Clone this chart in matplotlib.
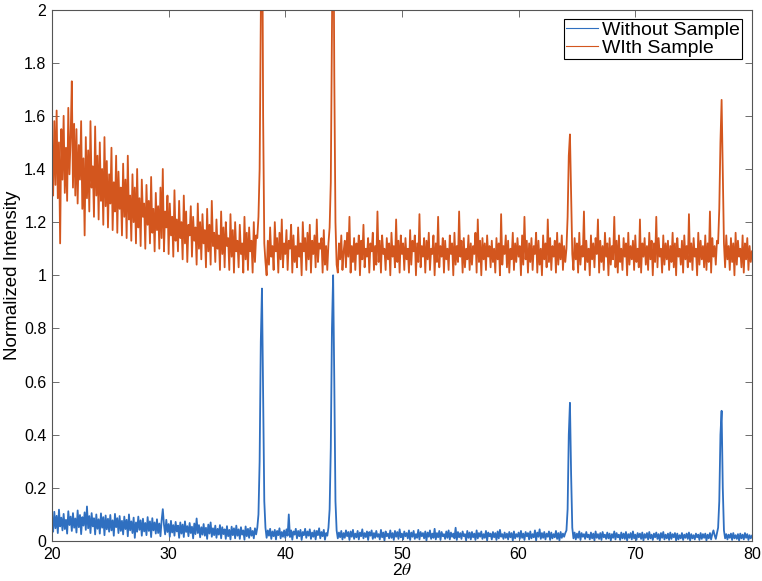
import numpy as np
import matplotlib
matplotlib.use("Agg")
import matplotlib.pyplot as plt

# step scan: 20.0 .. 80.0 deg, 0.1 deg per point
SCAN_START = 20.0
SCAN_STEP = 0.1

# normalized intensity, sample in beam (offset by +1)
with_sample = [
    1.45, 1.30, 1.58, 1.34, 1.62, 1.29, 1.50, 1.12, 1.55, 1.36,  # 20
    1.60, 1.31, 1.48, 1.28, 1.63, 1.38, 1.52, 1.73, 1.33, 1.57,  # 21
    1.30, 1.55, 1.27, 1.49, 1.36, 1.58, 1.25, 1.44, 1.15, 1.52,  # 22
    1.29, 1.47, 1.24, 1.58, 1.33, 1.41, 1.22, 1.56, 1.30, 1.45,  # 23
    1.21, 1.50, 1.28, 1.40, 1.19, 1.52, 1.26, 1.43, 1.18, 1.38,  # 24
    1.27, 1.48, 1.17, 1.35, 1.24, 1.45, 1.16, 1.39, 1.25, 1.33,  # 25
    1.15, 1.42, 1.22, 1.36, 1.14, 1.45, 1.21, 1.30, 1.13, 1.38,  # 26
    1.20, 1.33, 1.12, 1.40, 1.18, 1.29, 1.11, 1.36, 1.22, 1.27,  # 27
    1.10, 1.34, 1.19, 1.28, 1.12, 1.37, 1.16, 1.25, 1.09, 1.31,  # 28
    1.17, 1.26, 1.10, 1.33, 1.14, 1.40, 1.09, 1.24, 1.18, 1.30,  # 29
    1.08, 1.27, 1.15, 1.22, 1.07, 1.32, 1.13, 1.21, 1.09, 1.28,  # 30
    1.14, 1.20, 1.06, 1.30, 1.12, 1.24, 1.05, 1.19, 1.15, 1.26,  # 31
    1.07, 1.22, 1.13, 1.18, 1.04, 1.27, 1.10, 1.20, 1.06, 1.23,  # 32
    1.12, 1.17, 1.03, 1.25, 1.09, 1.19, 1.04, 1.28, 1.11, 1.16,  # 33
    1.05, 1.21, 1.10, 1.15, 1.02, 1.24, 1.08, 1.18, 1.03, 1.20,  # 34
    1.11, 1.14, 1.02, 1.23, 1.07, 1.17, 1.01, 1.20, 1.09, 1.13,  # 35
    1.03, 1.19, 1.08, 1.12, 1.01, 1.22, 1.06, 1.16, 1.02, 1.18,  # 36
    1.09, 1.13, 1.01, 1.20, 1.05, 1.15, 1.14, 1.22, 1.40, 1.95,  # 37
    2.60, 1.60, 1.12, 1.05, 1.00, 1.13, 1.04, 1.18, 1.07, 1.11,  # 38
    1.02, 1.20, 1.09, 1.14, 1.01, 1.16, 1.06, 1.21, 1.03, 1.12,  # 39
    1.08, 1.17, 1.02, 1.13, 1.10, 1.19, 1.01, 1.15, 1.05, 1.11,  # 40
    1.03, 1.18, 1.07, 1.12, 1.00, 1.20, 1.09, 1.14, 1.02, 1.16,  # 41
    1.06, 1.19, 1.01, 1.13, 1.08, 1.15, 1.03, 1.21, 1.05, 1.12,  # 42
    1.10, 1.14, 1.01, 1.17, 1.04, 1.11, 1.02, 1.12, 1.18, 1.35,  # 43
    1.90, 2.60, 1.75, 1.20, 1.04, 1.01, 1.12, 1.06, 1.15, 1.02,  # 44
    1.09, 1.13, 1.03, 1.16, 1.07, 1.22, 1.01, 1.11, 1.05, 1.14,  # 45
    1.02, 1.12, 1.08, 1.15, 1.00, 1.13, 1.06, 1.19, 1.03, 1.10,  # 46
    1.07, 1.14, 1.01, 1.12, 1.09, 1.16, 1.02, 1.11, 1.04, 1.24,  # 47
    1.05, 1.13, 1.01, 1.15, 1.08, 1.10, 1.02, 1.14, 1.06, 1.12,  # 48
    1.00, 1.16, 1.07, 1.11, 1.03, 1.21, 1.05, 1.13, 1.01, 1.15,  # 49
    1.08, 1.12, 1.02, 1.14, 1.06, 1.10, 1.01, 1.17, 1.04, 1.13,  # 50
    1.09, 1.15, 1.00, 1.12, 1.05, 1.23, 1.03, 1.11, 1.07, 1.14,  # 51
    1.01, 1.13, 1.06, 1.16, 1.02, 1.10, 1.08, 1.15, 1.00, 1.12,  # 52
    1.05, 1.22, 1.03, 1.11, 1.07, 1.14, 1.01, 1.13, 1.06, 1.10,  # 53
    1.02, 1.15, 1.08, 1.12, 1.00, 1.16, 1.04, 1.11, 1.05, 1.24,  # 54
    1.07, 1.13, 1.01, 1.14, 1.03, 1.10, 1.06, 1.15, 1.02, 1.12,  # 55
    1.04, 1.11, 1.08, 1.16, 1.01, 1.21, 1.05, 1.13, 1.00, 1.14,  # 56
    1.06, 1.12, 1.02, 1.15, 1.07, 1.11, 1.03, 1.13, 1.05, 1.10,  # 57
    1.01, 1.14, 1.06, 1.12, 1.00, 1.23, 1.04, 1.11, 1.08, 1.15,  # 58
    1.03, 1.13, 1.01, 1.10, 1.06, 1.16, 1.02, 1.12, 1.05, 1.14,  # 59
    1.07, 1.11, 1.00, 1.15, 1.04, 1.22, 1.06, 1.13, 1.01, 1.12,  # 60
    1.05, 1.14, 1.02, 1.11, 1.08, 1.16, 1.01, 1.13, 1.04, 1.10,  # 61
    1.00, 1.15, 1.06, 1.12, 1.03, 1.21, 1.05, 1.14, 1.02, 1.11,  # 62
    1.07, 1.13, 1.01, 1.16, 1.04, 1.12, 1.06, 1.15, 1.02, 1.11,  # 63
    1.05, 1.10, 1.22, 1.45, 1.53, 1.30, 1.08, 1.02, 1.14, 1.06,  # 64
    1.12, 1.01, 1.16, 1.04, 1.11, 1.07, 1.24, 1.02, 1.13, 1.05,  # 65
    1.10, 1.00, 1.15, 1.06, 1.12, 1.03, 1.14, 1.08, 1.21, 1.01,  # 66
    1.13, 1.05, 1.11, 1.02, 1.16, 1.07, 1.12, 1.00, 1.14, 1.04,  # 67
    1.11, 1.06, 1.22, 1.03, 1.13, 1.01, 1.15, 1.05, 1.10, 1.02,  # 68
    1.14, 1.07, 1.12, 1.00, 1.16, 1.04, 1.11, 1.06, 1.13, 1.02,  # 69
    1.15, 1.05, 1.10, 1.03, 1.21, 1.01, 1.12, 1.07, 1.14, 1.04,  # 70
    1.11, 1.02, 1.16, 1.06, 1.13, 1.00, 1.12, 1.05, 1.22, 1.03,  # 71
    1.14, 1.07, 1.10, 1.01, 1.15, 1.04, 1.12, 1.06, 1.13, 1.02,  # 72
    1.11, 1.05, 1.16, 1.03, 1.12, 1.00, 1.14, 1.07, 1.10, 1.04,  # 73
    1.13, 1.01, 1.15, 1.06, 1.11, 1.03, 1.23, 1.05, 1.12, 1.02,  # 74
    1.14, 1.07, 1.10, 1.00, 1.16, 1.04, 1.13, 1.06, 1.11, 1.03,  # 75
    1.15, 1.02, 1.12, 1.05, 1.24, 1.01, 1.14, 1.07, 1.11, 1.04,  # 76
    1.13, 1.12, 1.25, 1.50, 1.66, 1.38, 1.12, 1.03, 1.15, 1.06,  # 77
    1.11, 1.02, 1.14, 1.05, 1.12, 1.00, 1.16, 1.04, 1.13, 1.07,  # 78
    1.10, 1.03, 1.15, 1.01, 1.12, 1.06, 1.14, 1.02, 1.11, 1.05,  # 79
    1.09,                                                        # 80
]

# normalized intensity, empty holder
without_sample = [
    0.072, 0.035, 0.110, 0.048, 0.095, 0.030, 0.118, 0.055, 0.088, 0.040,  # 20
    0.102, 0.045, 0.080, 0.028, 0.112, 0.060, 0.092, 0.038, 0.105, 0.050,  # 21
    0.085, 0.032, 0.115, 0.052, 0.098, 0.026, 0.090, 0.058, 0.108, 0.042,  # 22
    0.130, 0.048, 0.094, 0.030, 0.105, 0.055, 0.086, 0.025, 0.100, 0.046,  # 23
    0.082, 0.028, 0.104, 0.050, 0.090, 0.022, 0.096, 0.044, 0.084, 0.035,  # 24
    0.098, 0.040, 0.078, 0.020, 0.102, 0.052, 0.086, 0.030, 0.094, 0.038,  # 25
    0.076, 0.025, 0.092, 0.045, 0.080, 0.018, 0.100, 0.040, 0.074, 0.030,  # 26
    0.088, 0.012, 0.070, 0.035, 0.092, 0.042, 0.078, 0.020, 0.084, 0.036,  # 27
    0.068, 0.022, 0.090, 0.038, 0.074, 0.015, 0.086, 0.040, 0.070, 0.028,  # 28
    0.082, 0.030, 0.066, 0.018, 0.078, 0.120, 0.062, 0.025, 0.080, 0.034,  # 29
    0.064, 0.016, 0.076, 0.032, 0.060, 0.020, 0.072, 0.036, 0.058, 0.012,  # 30
    0.070, 0.028, 0.062, 0.015, 0.074, 0.034, 0.056, 0.018, 0.068, 0.030,  # 31
    0.054, 0.010, 0.066, 0.026, 0.085, 0.030, 0.060, 0.014, 0.052, 0.024,  # 32
    0.064, 0.020, 0.050, 0.008, 0.062, 0.028, 0.070, 0.016, 0.048, 0.022,  # 33
    0.058, 0.012, 0.046, 0.024, 0.060, 0.010, 0.052, 0.026, 0.044, 0.008,  # 34
    0.056, 0.018, 0.042, 0.006, 0.054, 0.022, 0.048, 0.010, 0.058, 0.020,  # 35
    0.044, 0.008, 0.052, 0.024, 0.040, 0.005, 0.055, 0.018, 0.046, 0.012,  # 36
    0.050, 0.020, 0.038, 0.010, 0.048, 0.025, 0.050, 0.100, 0.300, 0.750,  # 37
    0.950, 0.550, 0.150, 0.050, 0.012, 0.040, 0.020, 0.046, 0.008, 0.036,  # 38
    0.018, 0.042, 0.006, 0.038, 0.022, 0.048, 0.010, 0.034, 0.016, 0.040,  # 39
    0.012, 0.044, 0.020, 0.100, 0.015, 0.040, 0.005, 0.036, 0.024, 0.046,  # 40
    0.010, 0.038, 0.018, 0.042, 0.004, 0.034, 0.022, 0.046, 0.012, 0.036,  # 41
    0.020, 0.044, 0.008, 0.032, 0.016, 0.040, 0.006, 0.038, 0.022, 0.048,  # 42
    0.010, 0.034, 0.018, 0.042, 0.005, 0.030, 0.020, 0.050, 0.120, 0.350,  # 43
    0.800, 1.000, 0.600, 0.150, 0.040, 0.010, 0.032, 0.014, 0.038, 0.006,  # 44
    0.030, 0.012, 0.040, 0.018, 0.034, 0.004, 0.036, 0.016, 0.042, 0.008,  # 45
    0.028, 0.014, 0.038, 0.006, 0.032, 0.018, 0.044, 0.010, 0.030, 0.015,  # 46
    0.036, 0.004, 0.034, 0.020, 0.040, 0.008, 0.030, 0.012, 0.038, 0.016,  # 47
    0.026, 0.006, 0.042, 0.014, 0.032, 0.002, 0.036, 0.018, 0.028, 0.010,  # 48
    0.040, 0.012, 0.030, 0.004, 0.038, 0.016, 0.034, 0.008, 0.044, 0.014,  # 49
    0.028, 0.006, 0.036, 0.018, 0.030, 0.010, 0.040, 0.004, 0.032, 0.016,  # 50
    0.038, 0.008, 0.026, 0.012, 0.042, 0.006, 0.034, 0.018, 0.030, 0.010,  # 51
    0.036, 0.002, 0.032, 0.016, 0.040, 0.008, 0.028, 0.012, 0.046, 0.006,  # 52
    0.030, 0.014, 0.038, 0.004, 0.034, 0.018, 0.026, 0.008, 0.036, 0.012,  # 53
    0.040, 0.006, 0.032, 0.016, 0.028, 0.010, 0.050, 0.004, 0.034, 0.014,  # 54
    0.030, 0.008, 0.036, 0.018, 0.026, 0.002, 0.038, 0.012, 0.032, 0.006,  # 55
    0.034, 0.014, 0.028, 0.004, 0.040, 0.010, 0.030, 0.016, 0.036, 0.008,  # 56
    0.026, 0.012, 0.038, 0.002, 0.032, 0.018, 0.028, 0.006, 0.034, 0.014,  # 57
    0.030, 0.004, 0.036, 0.010, 0.042, 0.016, 0.026, 0.008, 0.032, 0.012,  # 58
    0.028, 0.006, 0.034, 0.014, 0.030, 0.002, 0.036, 0.010, 0.026, 0.016,  # 59
    0.032, 0.008, 0.038, 0.012, 0.028, 0.004, 0.034, 0.018, 0.030, 0.006,  # 60
    0.036, 0.010, 0.026, 0.014, 0.040, 0.002, 0.032, 0.016, 0.044, 0.008,  # 61
    0.030, 0.012, 0.034, 0.006, 0.028, 0.016, 0.036, 0.004, 0.032, 0.010,  # 62
    0.026, 0.014, 0.038, 0.008, 0.030, 0.002, 0.034, 0.012, 0.028, 0.016,  # 63
    0.030, 0.040, 0.120, 0.400, 0.520, 0.250, 0.050, 0.010, 0.032, 0.006,  # 64
    0.028, 0.012, 0.036, 0.004, 0.030, 0.016, 0.026, 0.008, 0.034, 0.014,  # 65
    0.024, 0.006, 0.032, 0.010, 0.028, 0.002, 0.036, 0.012, 0.026, 0.008,  # 66
    0.030, 0.004, 0.034, 0.014, 0.024, 0.008, 0.032, 0.010, 0.028, 0.002,  # 67
    0.026, 0.012, 0.036, 0.006, 0.030, 0.014, 0.024, 0.004, 0.032, 0.010,  # 68
    0.028, 0.008, 0.034, 0.002, 0.026, 0.012, 0.030, 0.006, 0.036, 0.010,  # 69
    0.024, 0.004, 0.030, 0.014, 0.028, 0.008, 0.032, 0.002, 0.026, 0.012,  # 70
    0.030, 0.006, 0.034, 0.010, 0.024, 0.004, 0.028, 0.014, 0.032, 0.008,  # 71
    0.026, 0.002, 0.030, 0.012, 0.034, 0.006, 0.024, 0.010, 0.028, 0.004,  # 72
    0.032, 0.008, 0.026, 0.014, 0.030, 0.002, 0.028, 0.006, 0.022, 0.010,  # 73
    0.030, 0.004, 0.024, 0.012, 0.028, 0.008, 0.032, 0.002, 0.026, 0.010,  # 74
    0.022, 0.006, 0.028, 0.014, 0.024, 0.004, 0.030, 0.008, 0.026, 0.012,  # 75
    0.028, 0.002, 0.024, 0.010, 0.030, 0.006, 0.026, 0.040, 0.022, 0.008,  # 76
    0.030, 0.050, 0.150, 0.400, 0.490, 0.200, 0.040, 0.010, 0.026, 0.006,  # 77
    0.024, 0.012, 0.028, 0.004, 0.030, 0.010, 0.022, 0.008, 0.026, 0.002,  # 78
    0.028, 0.010, 0.024, 0.006, 0.030, 0.012, 0.026, 0.004, 0.022, 0.010,  # 79
    0.020,                                                                 # 80
]

LABELS = ["Without Sample", "WIth Sample"]
XTICKS = [20, 30, 40, 50, 60, 70, 80]
YTICKS = [0, 0.2, 0.4, 0.6, 0.8, 1, 1.2, 1.4, 1.6, 1.8, 2]

plt.rcParams["font.family"] = ["Liberation Sans", "DejaVu Sans"]
plt.rcParams["mathtext.fontset"] = "stix"

two_theta = SCAN_START + SCAN_STEP * np.arange(len(with_sample))

fig = plt.figure(figsize=(7.62, 5.81), dpi=100)
ax = fig.add_axes([0.0682, 0.0688, 0.9186, 0.9148])
ax.plot(two_theta, without_sample, color="#2F6FC0", lw=1.3, label=LABELS[0])
ax.plot(two_theta, with_sample, color="#D3561E", lw=1.3, label=LABELS[1])

ax.set_xlim(20, 80); ax.set_ylim(0, 2)
ax.set_xticks(XTICKS); ax.set_yticks(YTICKS)
ax.set_yticklabels([f"{v:g}" for v in YTICKS])
ax.tick_params(direction="in", top=True, right=True, length=5, width=0.6,
               labelsize=11.5, colors="#555555", labelcolor="black", pad=4)
for sp in ax.spines.values():
    sp.set_color("#555555"); sp.set_linewidth(0.8)
ax.set_xlabel(r"2$\theta$", fontsize=12.5, labelpad=0)
ax.set_ylabel("Normalized Intensity", fontsize=13.5, labelpad=2)
leg = ax.legend(loc="upper right", fontsize=14, handlelength=1.65, handletextpad=0.2,
                borderpad=0.12, labelspacing=0.0, borderaxespad=0.5, fancybox=False,
                framealpha=1)
leg.get_frame().set_edgecolor("black"); leg.get_frame().set_linewidth(0.8)
for h in leg.get_lines():
    h.set_linewidth(0.8)

plt.savefig("out.png", dpi=100)
